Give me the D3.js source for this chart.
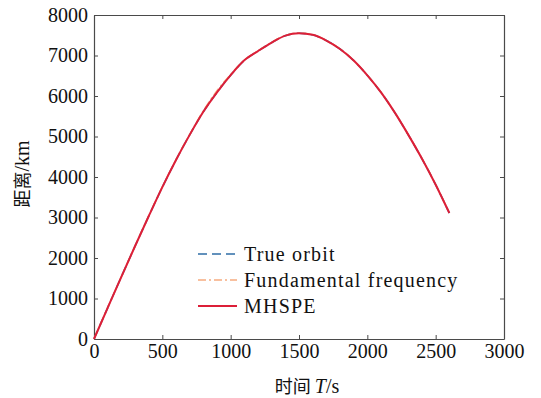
<!DOCTYPE html>
<html>
<head>
<meta charset="utf-8">
<script src="https://cdn.jsdelivr.net/npm/d3@7"></script>
<style>
  body { margin: 0; background: #fff; }
  svg { display: block; }
</style>
</head>
<body>
<div id="chart"></div>
<script>
// time in seconds
const times = [0, 100, 200, 300, 400, 500, 600, 700, 800, 900, 1000, 1100, 1200, 1300,
  1400, 1500, 1600, 1700, 1800, 1900, 2000, 2100, 2200, 2300, 2400, 2500, 2600];

// distance in km
const trueOrbit = [0, 770, 1535, 2290, 3030, 3750, 4420, 5040, 5610, 6090, 6515, 6880, 7110, 7320,
  7490, 7550, 7510, 7370, 7160, 6875, 6510, 6090, 5595, 5040, 4450, 3810, 3110];
const fundamental = [0, 772, 1538, 2294, 3034, 3755, 4425, 5048, 5630, 6130, 6530, 6885, 7115, 7325,
  7496, 7558, 7516, 7375, 7165, 6880, 6515, 6095, 5600, 5045, 4455, 3815, 3115];
const mhspe = [0, 770, 1535, 2290, 3030, 3750, 4420, 5040, 5610, 6090, 6515, 6880, 7110, 7320,
  7490, 7550, 7510, 7370, 7160, 6875, 6510, 6090, 5595, 5040, 4450, 3810, 3110];

const xTicks = [0, 500, 1000, 1500, 2000, 2500, 3000];
const yTicks = [0, 1000, 2000, 3000, 4000, 5000, 6000, 7000, 8000];

const seriesNames = ["True orbit", "Fundamental frequency", "MHSPE"];
const seriesColors = ["#2f6ea6", "#f6ac80", "#dc1f38"];
const seriesDash = ["9,5", "8,3,2,3", null];

const W = 541, H = 398;
const margin = { top: 15, right: 37, bottom: 59, left: 94 };
const width = W - margin.left - margin.right,
      height = H - margin.top - margin.bottom;

const xScale = d3.scaleLinear().domain([0, 3000]).range([0, width]);
const yScale = d3.scaleLinear().domain([0, 8000]).range([height, 0]);

const svg = d3.select("#chart").append("svg")
  .attr("width", W).attr("height", H);

const g = svg.append("g")
  .attr("transform", `translate(${margin.left},${margin.top})`);

const font = "'Liberation Serif', 'DejaVu Serif', serif";
const axisColor = "#4a4a4a";

function styleAxis(sel, showText) {
  sel.attr("font-family", null);
  sel.select(".domain").attr("stroke", axisColor).attr("stroke-width", 1.2);
  sel.selectAll(".tick line").attr("stroke", axisColor).attr("stroke-width", 1);
  sel.selectAll("text")
    .attr("fill", "#111")
    .style("font-family", font)
    .style("font-size", "20px")
    .style("display", showText ? null : "none");
}

// axes with inward ticks on all four sides
g.append("g")
  .attr("transform", `translate(0,${height})`)
  .call(d3.axisBottom(xScale).tickValues(xTicks).tickFormat(d3.format("d"))
    .tickSizeInner(-4).tickSizeOuter(0).tickPadding(5))
  .call(s => styleAxis(s, true));

g.append("g")
  .call(d3.axisTop(xScale).tickValues(xTicks).tickSizeInner(-4).tickSizeOuter(0))
  .call(s => styleAxis(s, false));

g.append("g")
  .call(d3.axisLeft(yScale).tickValues(yTicks).tickFormat(d3.format("d"))
    .tickSizeInner(-4).tickSizeOuter(0).tickPadding(6))
  .call(s => styleAxis(s, true));

g.append("g")
  .attr("transform", `translate(${width},0)`)
  .call(d3.axisRight(yScale).tickValues(yTicks).tickSizeInner(-4).tickSizeOuter(0))
  .call(s => styleAxis(s, false));

// lines
const series = [trueOrbit, fundamental, mhspe];
const line = d3.line()
  .curve(d3.curveMonotoneX)
  .x((d, i) => xScale(times[i]))
  .y(d => yScale(d));

series.forEach((vals, k) => {
  g.append("path")
    .datum(vals)
    .attr("fill", "none")
    .attr("stroke", seriesColors[k])
    .attr("stroke-width", k === 2 ? 2 : 1.6)
    .attr("stroke-dasharray", seriesDash[k])
    .attr("d", line);
});

// legend
const legend = g.append("g").attr("transform", "translate(104,239)");
seriesNames.forEach((name, k) => {
  const row = legend.append("g").attr("transform", `translate(0,${k * 26})`);
  row.append("line")
    .attr("x1", 0).attr("x2", 39)
    .attr("stroke", seriesColors[k])
    .attr("stroke-width", k === 2 ? 2 : 1.6)
    .attr("stroke-dasharray", seriesDash[k]);
  row.append("text")
    .attr("x", 46).attr("y", 7)
    .style("font-family", font)
    .style("font-size", "20px")
    .style("letter-spacing", "1.2px")
    .attr("fill", "#111")
    .text(name);
});

// axis titles
const xTitle = svg.append("text")
  .attr("x", margin.left + width / 2 + 8)
  .attr("y", 393)
  .attr("text-anchor", "middle")
  .style("font-size", "20px")
  .attr("fill", "#111");
xTitle.append("tspan").style("font-family", "'Noto Sans CJK SC'").style("font-size", "18px").text("时间 ");
xTitle.append("tspan").style("font-family", font).style("font-style", "italic").text("T");
xTitle.append("tspan").style("font-family", font).text("/s");

const yTitle = svg.append("text")
  .attr("transform", `translate(29,${margin.top + height / 2 - 3}) rotate(-90)`)
  .attr("text-anchor", "middle")
  .style("font-size", "20px")
  .attr("fill", "#111");
yTitle.append("tspan").style("font-family", "'Noto Sans CJK SC'").style("font-size", "18px").text("距离");
yTitle.append("tspan").style("font-family", font).text("/km");
</script>
</body>
</html>
